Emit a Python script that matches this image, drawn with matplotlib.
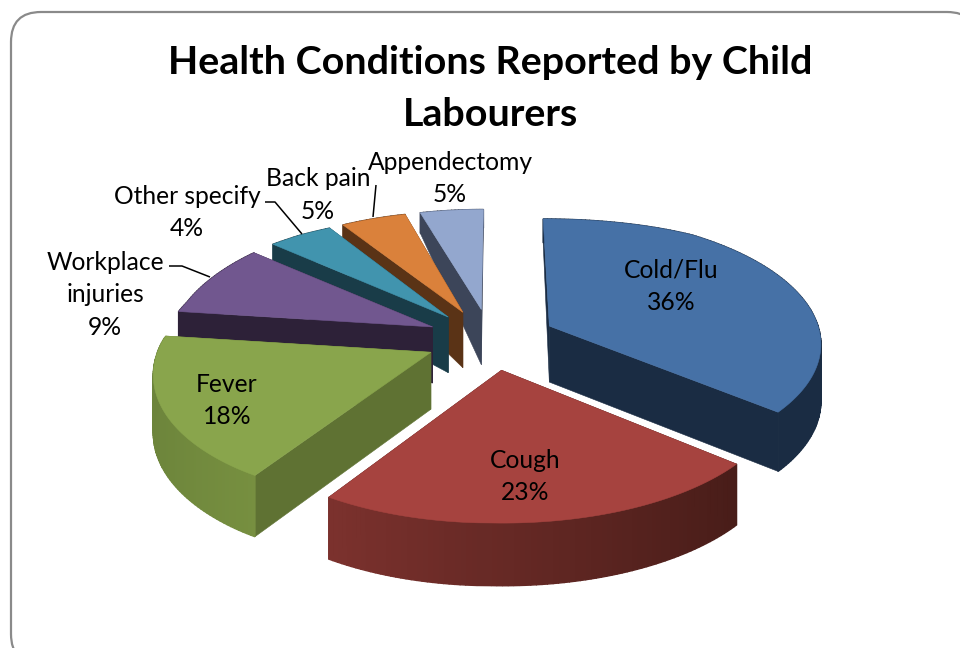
import numpy as np
import matplotlib
matplotlib.use("Agg")
import matplotlib.pyplot as plt
from matplotlib.patches import FancyBboxPatch, Polygon

title = "Health Conditions Reported by Child\nLabourers"
labels = ["Cold/Flu", "Cough", "Fever", "Workplace\ninjuries", "Other specify", "Back pain", "Appendectomy"]
values = [36, 23, 18, 9, 4, 5, 5]
top_colors = ["#4671A6", "#A6433F", "#89A54C", "#71578F", "#4194AE", "#DA813B", "#93A7CE"]
wall_colors = ["#1A2C43", "#471B17", "#5F7233", "#2D2138", "#193C48", "#5A3316", "#3C4559"]
rim_dark = ["#1A2C43", "#3F1915", "#9AB550", "#2D2138", "#193C48", "#5A3316", "#3C4559"]
rim_light = ["#1A2C43", "#8E3935", "#6C843B", "#2D2138", "#193C48", "#5A3316", "#3C4559"]

CX, CY, RX, RY, PERSP, EXPLODE = 491, 339, 272, 128, 0.12, 0.24


def project(u, v):
    u = np.asarray(u, dtype=float)
    v = np.asarray(v, dtype=float)
    s = 1 / (1 + PERSP * v)
    narrowing = np.interp(v, [-2, 0, 0.3, 0.73, 0.81, 0.98, 1.25],
                          [0.993, 0.993, 0.965, 0.957, 0.942, 0.882, 0.85])
    left = np.where(u < 0, narrowing, 1.0)
    shear = np.where(u < 0, 7 * np.maximum(-v, 0), 0.0)
    flatten = 1 - 0.18 * np.maximum(v - 0.9, 0) - 0.03 * np.maximum(-v - 0.9, 0)
    return CX + RX * u * s * left - shear, CY - RY * v * s * flatten


def drop(v):
    return np.interp(v, [-1.3, 0.3, 1.25], [63, 55, 18])


def hex2rgb(c):
    return np.array(matplotlib.colors.to_rgb(c))


fig = plt.figure(figsize=(9.6, 6.48), dpi=100, facecolor="white")
ax = fig.add_axes([0, 0, 1, 1])
ax.set_xlim(0, 960)
ax.set_ylim(648, 0)
ax.axis("off")

ax.add_patch(FancyBboxPatch((11, 12), 966, 652, boxstyle="round,pad=0,rounding_size=30",
                            fc="white", ec="#8A8A8A", lw=1.6, zorder=0))

edges = np.concatenate([[0], np.cumsum(values)]) / sum(values) * 2 * np.pi
order = [6, 5, 4, 3, 2, 0, 1]
z = 1
for i in order:
    a0, a1 = edges[i], edges[i + 1]
    mid = (a0 + a1) / 2
    u0, v0 = EXPLODE * np.sin(mid), EXPLODE * np.cos(mid)
    th = np.linspace(a0, a1, max(int(np.degrees(a1 - a0)), 6) + 1)
    us, vs = u0 + np.sin(th), v0 + np.cos(th)
    xs, ys = project(us, vs)
    ds = drop(vs)
    ax0, ay0 = project(u0, v0)
    ad = drop(v0)
    # radial walls first, so that the outer wall stays in front of the hidden ones
    for j in (0, -1):
        q = [(ax0, ay0), (xs[j], ys[j]), (xs[j], ys[j] + ds[j]), (ax0, ay0 + ad)]
        ax.add_patch(Polygon(q, fc=wall_colors[i], ec=wall_colors[i], lw=0.4, zorder=z))
    # outer wall
    for k in range(len(th) - 1):
        f = (np.sin((th[k] + th[k + 1]) / 2) + 1) / 2
        c = hex2rgb(rim_light[i]) * (1 - f) + hex2rgb(rim_dark[i]) * f
        q = [(xs[k], ys[k]), (xs[k + 1], ys[k + 1]),
             (xs[k + 1], ys[k + 1] + ds[k + 1]), (xs[k], ys[k] + ds[k])]
        ax.add_patch(Polygon(q, fc=c, ec=c, lw=1.0, zorder=z + 0.1))
    # top
    pts = [(ax0, ay0)] + list(zip(xs, ys))
    ax.add_patch(Polygon(pts, fc=top_colors[i], ec=top_colors[i], lw=0.4, zorder=z + 0.2))
    z += 1

tfont = dict(family="Lato", color="black")
ax.text(490, 62, title.split("\n")[0], ha="center", va="center", fontsize=28.4, fontweight="bold", zorder=20, **tfont)
ax.text(490, 115, title.split("\n")[1], ha="center", va="center", fontsize=28.4, fontweight="bold", zorder=20, **tfont)

label_pos = [(671, 270), (525, 460), (227, 384), (105, 262), (187, 196), (318, 179), (450, 162)]
for name, val, (x, y) in zip(labels, values, label_pos):
    for n, line in enumerate(name.split("\n") + [f"{val}%"]):
        ax.text(x, y + 32.8 * n, line, ha="center", va="center", fontsize=17.7, zorder=20, **tfont)

leaders = [[(169, 266), (182, 266), (210, 277)],
           [(265, 202), (275, 202), (302, 234)],
           [(376, 185), (373, 217)]]
for ln in leaders:
    ax.plot(*zip(*ln), color="black", lw=1.1, zorder=19, solid_capstyle="butt")

fig.savefig("out.png", dpi=100)
